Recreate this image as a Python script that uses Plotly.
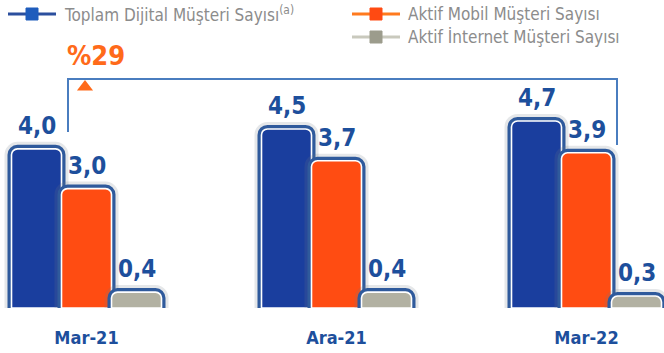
import plotly.graph_objects as go

# Data
categories = ["Mar-21", "Ara-21", "Mar-22"]
series_names = [
    "Toplam Dijital Müşteri Sayısı<sup>(a)</sup>",
    "Aktif Mobil Müşteri Sayısı",
    "Aktif İnternet Müşteri Sayısı",
]
toplam_dijital = [4.0, 4.5, 4.7]
aktif_mobil = [3.0, 3.7, 3.9]
aktif_internet = [0.4, 0.4, 0.3]
growth_label = "%29"

series_values = [toplam_dijital, aktif_mobil, aktif_internet]

# Styling
W, H = 664, 353
PLOT_H = 308                      # pixel height of the plot area (top margin 0)
fill_colors = ["#1a3e9e", "#ff4c12", "#b2b1a2"]
legend_line_colors = ["#2b4f9e", "#ff7a1e", "#c9c9bd"]
legend_box_colors = ["#1f5cbc", "#ff4a12", "#9c9c8c"]
border_color = "#2f5a9c"
label_color = "#1d4f9c"
accent = "#ff6a1a"
bracket_color = "#4a7dbf"
legend_text_color = "#8c8c8c"
narrow = "Liberation Sans Narrow, DejaVu Sans Condensed, Arial Narrow, sans-serif"

offsets = [-0.2, 0.0, 0.2]
bar_w = 0.2
y_top = 7.74
px_per_unit = PLOT_H / y_top

fig = go.Figure()

xs_all = list(range(len(categories)))
for vals, col, off in zip(series_values, fill_colors, offsets):
    xs = [i + off for i in xs_all]
    # soft halo behind each bar
    fig.add_trace(go.Bar(
        x=xs, y=vals, width=bar_w,
        marker=dict(color="rgba(0,0,0,0)", line=dict(color="rgba(110,120,135,0.18)", width=14)),
        showlegend=False, hoverinfo="skip",
    ))
    # thick outer frame
    fig.add_trace(go.Bar(
        x=xs, y=vals, width=bar_w,
        marker=dict(color=col, line=dict(color=border_color, width=8)),
        showlegend=False, hoverinfo="skip",
    ))
    # filled body with thin white rim
    fig.add_trace(go.Bar(
        x=xs, y=vals, width=bar_w,
        marker=dict(color=col, line=dict(color="white", width=1.6)),
        showlegend=False,
    ))
    for x, v in zip(xs, vals):
        fig.add_annotation(
            x=x, y=v, xref="x", yref="y",
            text=f"{v:.1f}".replace(".", ","),
            showarrow=False, yanchor="bottom", yshift=7,
            font=dict(family=narrow, size=24, color=label_color, weight="bold"),
        )


def px_x(px):
    return px / W


def px_y(py):
    return (PLOT_H - py) / PLOT_H


# Legend drawn as line + square swatches with text
legend_pos = [(8, 14), (352, 14), (352, 37)]
for name, lc, bc, (lx, ly) in zip(series_names, legend_line_colors, legend_box_colors, legend_pos):
    cx, cy = px_x(lx + 24), px_y(ly)
    fig.add_shape(type="line", xref="paper", yref="paper",
                  xsizemode="pixel", ysizemode="pixel", xanchor=cx, yanchor=cy,
                  x0=-24, x1=24, y0=0, y1=0,
                  line=dict(color=lc, width=3))
    fig.add_shape(type="rect", xref="paper", yref="paper",
                  xsizemode="pixel", ysizemode="pixel", xanchor=cx, yanchor=cy,
                  x0=-6, x1=6, y0=-6, y1=6,
                  fillcolor=bc, line=dict(color=bc, width=1))
    fig.add_annotation(
        x=px_x(lx + 54), y=cy, xref="paper", yref="paper",
        text=name, showarrow=False, xanchor="left", yanchor="middle",
        font=dict(family=narrow, size=17, color=legend_text_color),
    )

# Growth bracket between first and last total bars
bx0, bx1 = -0.074, 2.122
by_top = (PLOT_H - 79) / px_per_unit
by_left = (PLOT_H - 132) / px_per_unit
by_right = (PLOT_H - 145) / px_per_unit
fig.add_shape(type="path", xref="x", yref="y",
              path=f"M {bx0},{by_left} L {bx0},{by_top} L {bx1},{by_top} L {bx1},{by_right}",
              line=dict(color=bracket_color, width=2))
fig.add_trace(go.Scatter(
    x=[-0.006], y=[(PLOT_H - 87) / px_per_unit], mode="markers",
    marker=dict(symbol="triangle-up", size=14, color=accent),
    showlegend=False, hoverinfo="skip", cliponaxis=False,
))
fig.add_annotation(
    x=bx0, y=(PLOT_H - 55) / px_per_unit, xref="x", yref="y",
    text=growth_label, showarrow=False, xanchor="left", yanchor="middle", xshift=-3,
    font=dict(family=narrow, size=27, color=accent, weight="bold"),
)

fig.update_layout(
    width=W, height=H,
    margin=dict(l=0, r=0, t=0, b=H - PLOT_H),
    barmode="overlay",
    barcornerradius=6,
    plot_bgcolor="white", paper_bgcolor="white",
    xaxis=dict(
        range=[-0.346, 2.31], tickvals=xs_all, ticktext=categories,
        showgrid=False, zeroline=False, showline=False,
        ticks="outside", ticklen=13, tickcolor="rgba(0,0,0,0)",
        tickfont=dict(family=narrow, size=18, color=label_color, weight="bold"),
        fixedrange=True,
    ),
    yaxis=dict(range=[0, y_top], visible=False, fixedrange=True),
)

fig.write_html("out.html")
